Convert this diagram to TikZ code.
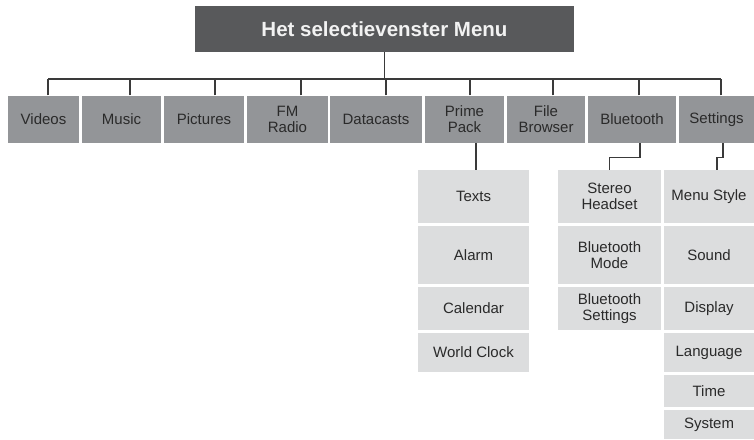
\documentclass[tikz,border=0pt]{standalone}
\usepackage{fontspec}
\setmainfont{Liberation Sans}
\definecolor{titlegray}{HTML}{58595B}
\definecolor{midgray}{HTML}{939598}
\definecolor{lightgray}{HTML}{DCDDDE}
\definecolor{linegray}{HTML}{3A3A3A}
\definecolor{textgray}{HTML}{2A2A2A}
\begin{document}
\begin{tikzpicture}[x=1pt, y=-1pt,
  every node/.style={rectangle, inner sep=0pt, align=center, font=\fontsize{15}{16}\selectfont, text=textgray},
  titlebox/.style={fill=titlegray, text=white!95!black, font=\fontsize{20.5}{22}\selectfont\bfseries, minimum width=379, minimum height=46},
  menubox/.style={fill=midgray, minimum height=47.5},
  subbox/.style={fill=lightgray},
  link/.style={draw=linegray, line width=1.1pt}]
  \useasboundingbox (0,0) rectangle (754,439);
  % title
  \node[titlebox] (title) at (384.5,29) {Het selectievenster Menu};
  % main menu row
  \node[menubox, minimum width=71] (videos) at (43.5,119.25) {Videos};
  \node[menubox, minimum width=79] (music) at (121.5,119.25) {Music};
  \node[menubox, minimum width=80] (pictures) at (204,119.25) {Pictures};
  \node[menubox, minimum width=81] (fmradio) at (287.5,119.25) {FM\\Radio};
  \node[menubox, minimum width=92] (datacasts) at (376,119.25) {Datacasts};
  \node[menubox, minimum width=79] (primepack) at (464.5,119.25) {Prime\\Pack};
  \node[menubox, minimum width=78] (filebrowser) at (546,119.25) {File\\Browser};
  \node[menubox, minimum width=88] (bluetooth) at (632,119.25) {Bluetooth};
  \node[menubox, minimum width=75] (settings) at (716.5,119.25) {Settings};
  % Prime Pack
  \node[subbox, minimum width=111, minimum height=53] (texts) at (473.5,196.5) {Texts};
  \node[subbox, minimum width=111, minimum height=58] (alarm) at (473.5,255) {Alarm};
  \node[subbox, minimum width=111, minimum height=43] (calendar) at (473.5,308.5) {Calendar};
  \node[subbox, minimum width=111, minimum height=39] (worldclock) at (473.5,352.5) {World Clock};
  % Bluetooth
  \node[subbox, minimum width=103, minimum height=53] (stereo) at (609.5,196.5) {Stereo\\Headset};
  \node[subbox, minimum width=103, minimum height=58] (btmode) at (609.5,255) {Bluetooth\\Mode};
  \node[subbox, minimum width=103, minimum height=43] (btsettings) at (609.5,308.5) {Bluetooth\\Settings};
  % Settings
  \node[subbox, minimum width=90, minimum height=53] (menustyle) at (709,196.5) {Menu Style};
  \node[subbox, minimum width=90, minimum height=58] (sound) at (709,255) {Sound};
  \node[subbox, minimum width=90, minimum height=43] (display) at (709,308.5) {Display};
  \node[subbox, minimum width=90, minimum height=39] (language) at (709,352.5) {Language};
  \node[subbox, minimum width=90, minimum height=32] (time) at (709,391) {Time};
  \node[subbox, minimum width=90, minimum height=29] (system) at (709,424.5) {System};
  % connectors
  \coordinate (bus) at (0,79);
  \draw[link] (title.south) -- (title.south |- bus);
  \draw[link] ([xshift=4.5]videos.north |- bus) -- ([xshift=4.5]settings.north |- bus);
  \foreach \n/\dx in {videos/4.5, music/8.5, pictures/11, fmradio/13.5, datacasts/10,
                      primepack/5.5, filebrowser/7, bluetooth/7, settings/4.5}
    \draw[link] ([xshift=\dx]\n.north) -- ([xshift=\dx]\n.north |- bus);
  \draw[link] ([xshift=11.5]primepack.south) -- ([xshift=11.5]primepack.south |- texts.north);
  \draw[link] ([xshift=8]bluetooth.south) -- ++(0,14) -| (stereo.north);
  \draw[link] ([xshift=6.5]settings.south) -- ++(0,14) -| ([xshift=8]menustyle.north);
\end{tikzpicture}
\end{document}
